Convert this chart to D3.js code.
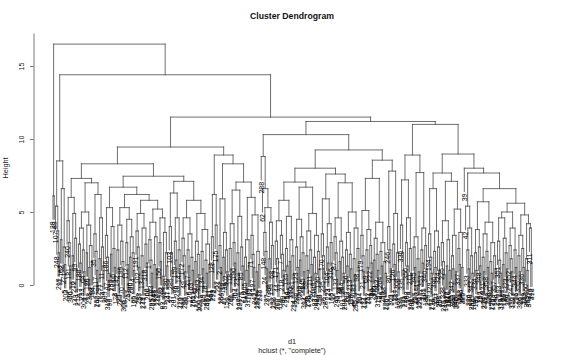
<!DOCTYPE html>
<html><head><meta charset="utf-8">
<script src="https://cdn.jsdelivr.net/npm/d3@7"></script>
<style>body{margin:0;background:#fff}text{font-family:"Liberation Sans",Arial,Helvetica,sans-serif}</style>
</head><body>
<svg id="c" width="568" height="355"></svg>
<script>
const title = "Cluster Dendrogram";
const xLabel = "d1";
const subLabel = 'hclust (*, "complete")';
const yLabel = "Height";
const yTicks = [0, 5, 10, 15];
const hang = 1.6;

// upper structure of the tree: merge heights, {name} = leaf block below
const skeleton =
 "({A},({C},(" +
 "((({G1a},({G1b1},{G1b2})7.0)7.3,(({G2a1},({G2a2a},({G2a2bL},{G2a2bR})5.8)6.2)6.7,({G2b1},{G2b2})7.1)7.45)8.3,({H1},({H2a},({H2b1},{H2b2})7.05)8.3)8.9)9.45" +
 "," +
 "(((288,(62,{F1a3})6.6)8.8,((({F1b1aL},{F1b1aR})7.05,({F1b1bL},{F1b1bR})7.6)8.0,({F1b2L},{F1b2R})8.55)9.25)10.3,(({F2aL},{F2aR})8.9,(({F2b1L},{F2b1R})7.67,(39,({F2b2a},({F2b2b},{F2b2c})6.6)7.67)8.0)8.97)11.0)11.2" +
 ")11.5)14.4)16.5";

// lower blocks: leaf labels and merge heights (estimated)
const blocks = [
 ["A", "(129,89)6.1"],
 ["C", "((107,(248,(219,91)2.2)3.7)5.4,((167,58)3.1,(271,(5,203)1.4)2.6)6.6)8.5"],
 ["G1a", "((240,(181,(36,300)1.3)2.9)4.4,((16,272)2.0,(99,(143,212)1.1)3.2)4.9)6.0"],
 ["G1b1", "(((188,(17,233)1.5)2.8,(64,(301,9)0.9)2.4)3.9,((120,55)2.2,((278,31)1.2,(198,84)1.6)2.7)4.1)5.0"],
 ["G1b2", "((35,(117,(262,140)1.0)2.3)3.5,((291,77)1.8,(11,(154,209)1.3)2.6)4.6)6.2"],
 ["G2a1", "((186,(47,(313,96)0.8)1.9)3.4,((137,250)2.1,(66,(8,174)1.2)2.5)4.0)5.3"],
 ["G2a2a", "(((142,(25,283)1.1)2.4,(199,(70,(306,18)0.7)1.6)3.0)4.1,((112,(257,43)1.4)2.9,((86,230)1.9,(4,(165,29)1.0)2.2)3.3)4.5)5.3"],
 ["G2a2bL", "((191,(102,(238,57)1.2)2.6)3.7,((13,(279,144)0.9)2.0,(318,(60,206)1.5)2.8)3.9)4.9"],
 ["G2a2bR", "(((1,(163,(295,82)0.8)1.7)3.1,((244,38)1.4,(127,210)1.1)3.3)4.3,((156,(22,268)1.6)2.9,((93,51)0.6,(180,(131,247)1.3)2.2)3.6)4.6)5.2"],
 ["G2b1", "((103,(285,(37,201)1.0)2.2)4.0,((159,(76,258)1.7)3.0,(14,(226,113)0.9)2.4)4.6)6.3"],
 ["G2b2", "(((172,(49,(296,88)0.9)2.0)3.2,((217,(6,125)1.3)2.4,(63,(281,150)1.0)1.9)3.5)4.6,(((41,236)1.6,(193,(100,309)0.7)2.1)3.0,((134,(19,265)1.1)2.3,((78,(207,46)0.8)1.7,(241,161)1.4)2.8)3.8)4.9)5.8"],
 ["H1", "((128,(293,72)1.4)3.3,(175,(52,221)2.0)4.1)6.2"],
 ["H2a", "((2,(184,266)1.2)2.7,((110,34)1.9,(302,(151,79)0.9)2.4)3.6)5.9"],
 ["H2b1", "(((118,(261,40)1.1)2.5,(190,(67,304)1.5)2.9)4.2,((23,(147,229)0.8)2.2,(85,(275,10)1.3)2.6)4.7)6.5"],
 ["H2b2", "(((205,(54,317)1.0)1.9,(139,92)1.5)3.1,((71,(197,(3,242)1.2)2.1)3.4,((157,282)0.9,(32,215)1.4)2.3)4.8)6.0"],
 ["F1a3", "((148,(24,(227,97)1.1)2.3)3.6,((305,195)1.8,(68,(132,256)0.9)2.7)4.3)5.3"],
 ["F1b1aL", "(((171,(44,(260,116)0.8)1.8)3.0,(7,(218,(90,297)1.0)2.1)3.4)4.4,((135,(254,50)1.3)2.5,((185,310)1.6,(81,(234,15)0.7)2.0)3.1)4.7)5.8"],
 ["F1b1aR", "(((123,(280,65)1.2)2.6,((202,28)1.7,(145,(312,94)0.9)2.2)3.3)4.5,(((59,(239,176)1.0)2.0,(111,(267,20)1.4)2.4)3.7,((189,(83,249)0.8)1.9,(130,(298,53)1.1)2.3)3.4)4.9)6.7"],
 ["F1b1bL", "((170,(235,(26,287)0.9)2.0)3.5,((104,(223,74)1.5)2.6,(316,(160,12)1.2)2.9)4.2)5.9"],
 ["F1b1bR", "(((87,(133,(243,30)1.0)2.2)3.3,((178,48)1.6,(264,(101,200)0.8)1.9)3.0)4.6,(((56,(292,152)1.3)2.4,(213,(119,276)1.1)2.1)3.6,((183,(45,255)0.7)1.8,(98,(307,164)1.2)2.5)3.9)5.0)7.0"],
 ["F1b2L", "(((179,(21,(237,114)0.9)2.0)3.4,((69,(252,141)1.2)2.4,(222,(33,289)1.5)2.7)3.8)5.1,(((115,273)1.7,(153,(319,75)1.0)2.1)3.2,((204,(95,259)1.3)2.3,(138,(270,106)0.8)1.6)2.9)4.3)7.3"],
 ["F1b2R", "((246,(80,(303,173)1.1)2.4)4.0,((126,(214,187)1.4)2.8,(308,(162,331)0.9)2.2)4.9)7.8"],
 ["F2aL", "((336,(335,(121,228)1.0)2.2)4.1,((350,(168,274)1.3)2.9,(211,(341,108)0.8)2.5)4.6)7.2"],
 ["F2aR", "(((345,(327,190)1.2)2.6,(344,(196,323)0.9)1.8)3.3,((353,(231,105)1.5)2.4,(340,(182,299)1.1)2.7)3.9)7.7"],
 ["F2b1L", "((194,(329,(277,136)0.8)1.9)3.5,((346,(251,177)1.2)2.3,(324,(208,357)1.0)2.6)3.7)6.6"],
 ["F2b1R", "(((225,(338,(245,149)0.7)1.6)2.9,((322,216)1.3,(354,169)1.0)3.1)4.4,(((342,(232,192)1.1)2.0,(349,330)0.9)3.4,((337,(263,146)1.4)2.5,(356,325)1.2)3.6)5.2)7.1"],
 ["F2b2a", "(42,((333,(326,158)1.1)2.4,(343,(352,100)0.8)2.0)3.9)5.4"],
 ["F2b2b", "(((334,(185,71)1.0)2.2,(348,(262,122)1.3)2.6)3.8,(((321,(234,339)0.9)1.9,(358,(203,116)1.2)2.3)3.5,((320,(258,175)0.8)1.6,(357,(148,290)1.1)2.0)2.9)4.3)5.7"],
 ["F2b2c", "((((351,(293,(332,119)0.8)1.7)3.0,((347,269)1.4,(323,(180,359)1.1)2.2)3.2)4.6,((352,(247,(330,112)0.9)1.8)2.7,(344,(276,94)1.2)2.4)3.9)5.0,(((355,(326,99)0.9)2.0,(336,(299,142)1.2)2.5)3.4,((360,(283,343)1.0)1.8,(311,(349,318)1.5)3.9)4.2)4.8)5.6"]
];

function parse(s) {
  let i = 0;
  function node() {
    if (s[i] === "(") {
      i++;
      const kids = [node()];
      while (s[i] === ",") { i++; kids.push(node()); }
      if (s[i] !== ")") throw new Error("parse error at " + i);
      i++;
      const m = /^[0-9.]+/.exec(s.slice(i)); i += m[0].length;
      return { children: kids, h: +m[0] };
    }
    const m = /^[0-9A-Za-z]+/.exec(s.slice(i)); i += m[0].length;
    return { label: m[0] };
  }
  return node();
}

let src = skeleton;
blocks.forEach(([k, v]) => { src = src.replace("{" + k + "}", v); });
const root = d3.hierarchy(parse(src.replace(/\s+/g, "")), d => d.children);
const leaves = root.leaves();
const n = leaves.length;

const x = d3.scaleLinear().domain([0, n - 1]).range([53, 532]);
const y = d3.scaleLinear().domain([0, 17.26]).range([285, 33]);

leaves.forEach((l, i) => { l.px = x(i); });
root.eachAfter(d => { if (d.children) d.px = d3.mean(d.children, c => c.px); });

const svg = d3.select("#c");
svg.append("rect").attr("width", 568).attr("height", 355).attr("fill", "#fff");

const segs = [];
root.each(d => {
  if (!d.children) return;
  const h = d.data.h;
  const a = d.children[0], b = d.children[d.children.length - 1];
  segs.push([a.px, h, b.px, h]);
  d.children.forEach(c => {
    const ch = c.children ? c.data.h : h - hang;
    segs.push([c.px, h, c.px, ch]);
  });
});

svg.append("g").selectAll("line").data(segs).join("line")
  .attr("x1", s => s[0]).attr("y1", s => y(s[1]))
  .attr("x2", s => s[2]).attr("y2", s => y(s[3]))
  .attr("stroke", "#4a4a4a").attr("stroke-width", 0.8).attr("stroke-linecap", "square");

svg.append("g").selectAll("text").data(leaves).join("text")
  .attr("transform", d => `translate(${d.px},${y(d.parent.data.h - hang) + 2}) rotate(-90)`)
  .attr("text-anchor", "end").attr("dy", "0.35em")
  .attr("font-size", 7).attr("fill", "#000")
  .text(d => d.data.label);

// y axis
const ax = svg.append("g").attr("transform", "translate(33.5,0)")
  .call(d3.axisLeft(y).tickValues(yTicks).tickSize(3.5).tickSizeOuter(0).tickFormat(d3.format("d")));
ax.select(".domain").attr("stroke", "#555").attr("stroke-width", 0.8);
ax.selectAll(".tick line").attr("stroke", "#555").attr("stroke-width", 0.8);
ax.selectAll(".tick text")
  .attr("x", 0).attr("y", -10).attr("dy", 0)
  .attr("transform", "rotate(-90)").attr("text-anchor", "middle")
  .attr("font-size", 7).attr("fill", "#222")
  .style("font-family", '"Liberation Sans",Arial,sans-serif');

svg.append("text").attr("x", 292).attr("y", 19).attr("text-anchor", "middle")
  .attr("font-size", 8.7).attr("font-weight", "bold").attr("fill", "#111").text(title);
svg.append("text").attr("transform", "translate(7.5,168) rotate(-90)").attr("text-anchor", "middle")
  .attr("font-size", 7.3).attr("fill", "#222").text(yLabel);
svg.append("text").attr("x", 292).attr("y", 344).attr("text-anchor", "middle")
  .attr("font-size", 7.3).attr("fill", "#222").text(xLabel);
svg.append("text").attr("x", 292).attr("y", 352.5).attr("text-anchor", "middle")
  .attr("font-size", 7.3).attr("fill", "#222").text(subLabel);
</script>
</body></html>
